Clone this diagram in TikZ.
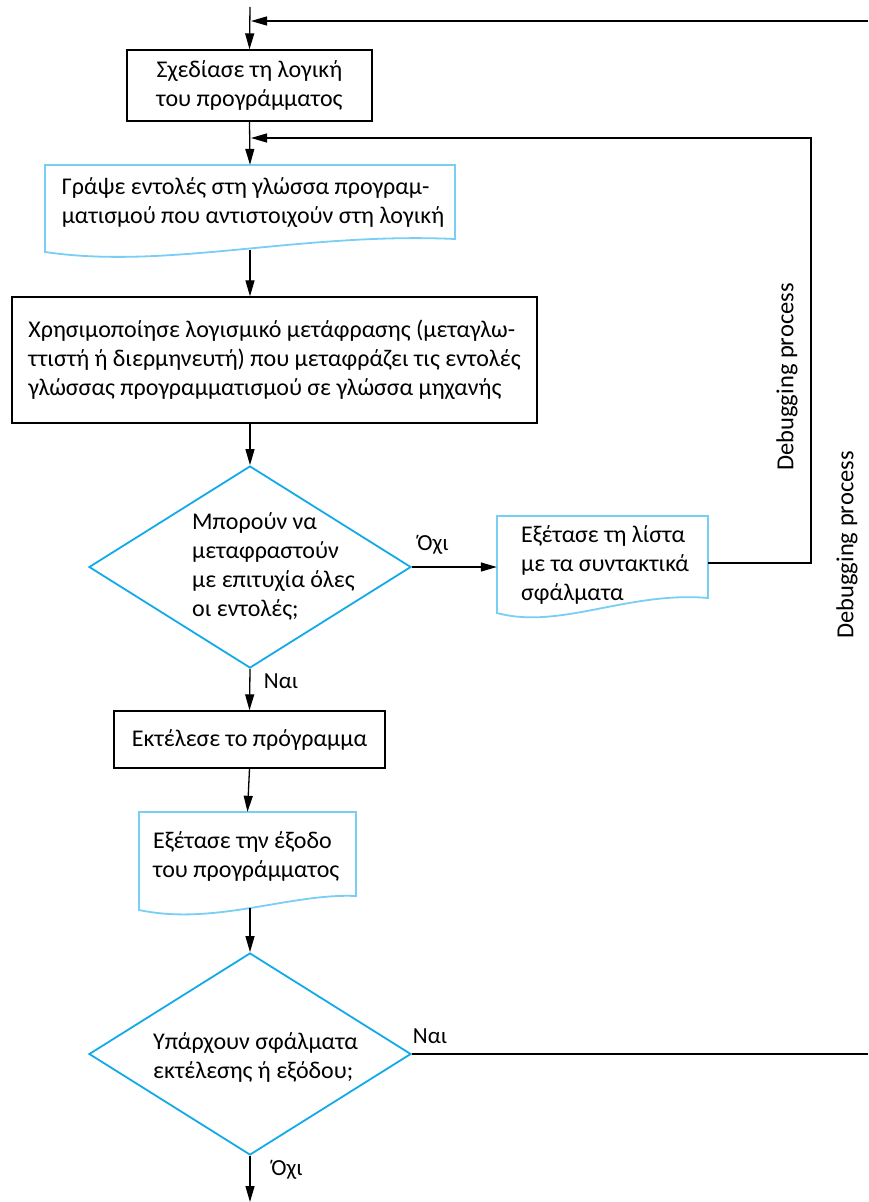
\documentclass[tikz,border=0pt]{standalone}
\usepackage{fontspec}
\setmainfont{Carlito}
\usetikzlibrary{arrows.meta,shapes.geometric}
\definecolor{dcyan}{RGB}{18,170,232}
\definecolor{lcyan}{RGB}{120,206,245}
\tikzset{
  txt/.style={font=\fontsize{24}{29}\selectfont, inner sep=0pt},
  blk/.style={draw=black, line width=1.4pt, txt},
  doc/.style={draw=lcyan, line width=1.8pt},
  dia/.style={draw=dcyan, line width=1.8pt, diamond, inner sep=0pt, minimum width=322pt, minimum height=202pt},
  conn/.style={line width=1.3pt},
  arr/.style={conn, -{Triangle[length=16pt,width=9pt]}},
  lbl/.style={font=\fontsize{23}{26}\selectfont, inner sep=0pt},
  rot/.style={font=\fontsize{24.5}{28}\selectfont, inner sep=0pt, rotate=90},
  hid/.style={inner sep=0pt},
}
\begin{document}
\begin{tikzpicture}[x=1pt,y=-1pt]
\useasboundingbox (0,0) rectangle (868,1202);

% box 1
\node[blk, minimum width=245pt, minimum height=71pt, align=center] (b1) at (249.5,85.5) {Σχεδίασε τη λογική\\του προγράμματος};

% box 2 (document)
\node[hid, minimum width=410pt, minimum height=74pt] (b2) at (250,202) {};
\draw[doc] (45,252) -- (45,165) -- (455,165) -- (455,239) .. controls (299,232) and (168,270) .. (45,252) -- cycle;
\node[txt, align=left] (b2t) at (253,203) {Γράψε εντολές στη γλώσσα προγραμ-\\ματισμού που αντιστοιχούν στη λογική};
\coordinate (b2b) at (250,250);

% box 3
\node[blk, minimum width=525pt, minimum height=126pt, align=left] (b3) at (274.5,360) {Χρησιμοποίησε λογισμικό μετάφρασης (μεταγλω-\\ττιστή ή διερμηνευτή) που μεταφράζει τις εντολές\\γλώσσας προγραμματισμού σε γλώσσα μηχανής};

% diamond 1
\node[dia] (d1) at (250,567) {};
\node[txt, align=left, anchor=west] (d1t) at (192,566) {Μπορούν να\\μεταφραστούν\\με επιτυχία όλες\\οι εντολές;};

% box 4 (document)
\node[hid, minimum width=211pt, minimum height=82pt] (b4) at (602.5,557) {};
\draw[doc] (497,613) -- (497,516) -- (708,516) -- (708,598) .. controls (628,591) and (560,630) .. (497,613) -- cycle;
\node[txt, align=left, anchor=west] (b4t) at (521,565) {Εξέτασε τη λίστα\\με τα συντακτικά\\σφάλματα};
\coordinate (b4o) at (708,563);

% box 5
\node[blk, minimum width=271pt, minimum height=57pt] (b5) at (249.5,739.5) {Εκτέλεσε το πρόγραμμα};

% box 6 (document)
\node[hid, minimum width=217pt, minimum height=84pt] (b6) at (247.5,854) {};
\draw[doc] (139,910) -- (139,812) -- (356,812) -- (356,896) .. controls (290,893) and (215,926) .. (139,910) -- cycle;
\node[txt, align=left, anchor=west] (b6t) at (153,856) {Εξέτασε την έξοδο\\του προγράμματος};
\coordinate (b6b) at (250,908);

% diamond 2
\node[dia] (d2) at (250,1054) {};
\node[txt, align=left, anchor=west] (d2t) at (153,1057) {Υπάρχουν σφάλματα\\εκτέλεσης ή εξόδου;};

% coordinates
\coordinate (start) at (250,7);
\coordinate (rt) at (868,21);
\coordinate (join0) at (251,21);
\coordinate (loop1) at (811,138);
\coordinate (join1) at (251,138);
\coordinate (rb) at (868,1054);
\coordinate (finish) at (250,1202);

% connectors
\draw[arr] (start) -- (b1.north);
\draw[arr] (rt) -- (join0);
\draw[arr] (b1.south) -- (b2.north);
\draw[arr] (b4o) -- (b4o -| loop1) -- (loop1) -- (join1);
\draw[arr] (b2b) -- (b2b |- b3.north);
\draw[arr] (d1.north |- b3.south) -- (d1.north);
\draw[arr] (d1.east) -- (b4.west |- d1.east);
\draw[arr] (d1.south) -- (b5.north);
\draw[arr] (b5.south) -- (b6.north);
\draw[arr] (b6b) -- (d2.north);
\draw[conn] (d2.east) -- (rb);
\draw[arr] (d2.south) -- (finish);

% labels
\node[lbl] (l1) at (433,545) {Όχι};
\node[lbl] (l2) at (281,681) {Ναι};
\node[lbl] (l3) at (430,1036) {Ναι};
\node[lbl] (l4) at (287,1170) {Όχι};
\node[rot] (r1) at (787,377) {Debugging process};
\node[rot] (r2) at (847,545) {Debugging process};
\end{tikzpicture}
\end{document}
